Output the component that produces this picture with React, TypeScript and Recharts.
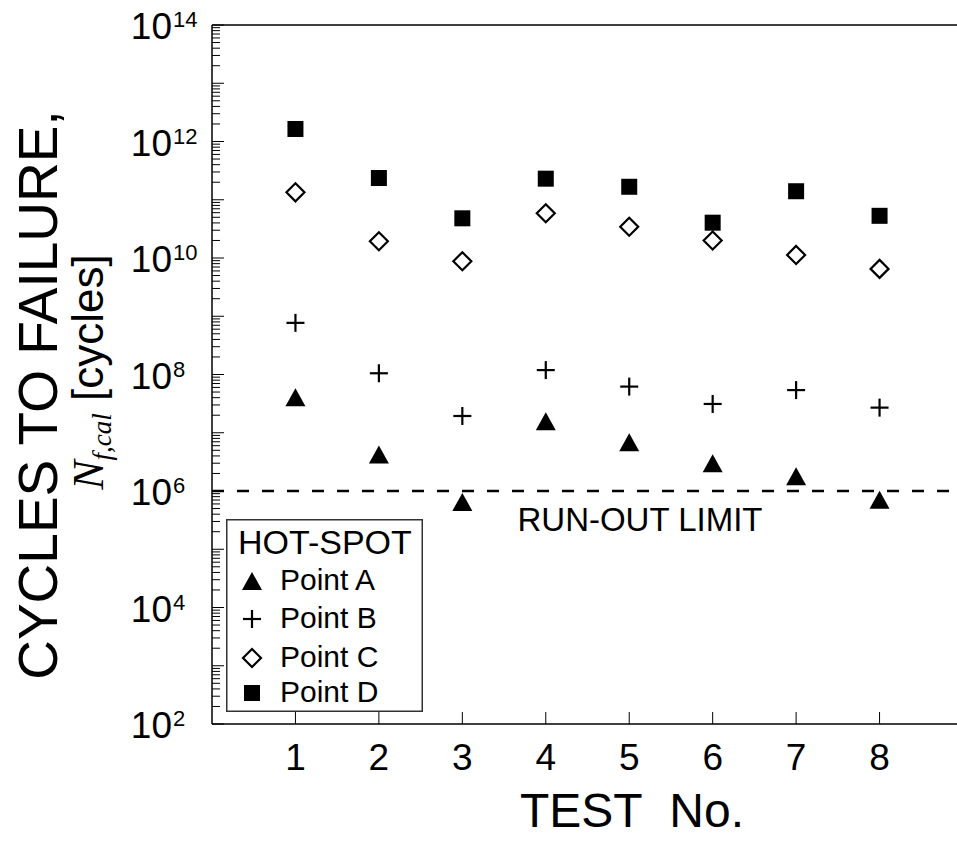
import { ScatterChart, Scatter, XAxis, YAxis, ReferenceLine } from 'recharts';

const tests = [1, 2, 3, 4, 5, 6, 7, 8];
const pointA = [4.07e7, 4.24e6, 6.5e5, 1.57e7, 6.9e6, 3.0e6, 1.79e6, 7.1e5];
const pointB = [7.7e8, 1.05e8, 1.94e7, 1.19e8, 6.2e7, 3.12e7, 5.4e7, 2.7e7];
const pointC = [1.34e11, 1.94e10, 8.8e9, 5.85e10, 3.44e10, 2.0e10, 1.13e10, 6.5e9];
const pointD = [1.64e12, 2.36e11, 4.8e10, 2.3e11, 1.67e11, 4.04e10, 1.4e11, 5.3e10];
const xTicks = [1, 2, 3, 4, 5, 6, 7, 8];
const decades = [2, 3, 4, 5, 6, 7, 8, 9, 10, 11, 12, 13];
const minorSteps = [1, 2, 3, 4, 5, 6, 7, 8, 9];
const runOutLimit = 1e6;
const yMin = 1e2;
const yMax = 1e14;

const SANS = '"Liberation Sans", Arial, sans-serif';
const SERIF = '"Liberation Serif", "Times New Roman", serif';

const yTicks: number[] = [];
decades.forEach((e) => minorSteps.forEach((m) => yTicks.push(m * Math.pow(10, e))));
yTicks.push(yMax);

const toPoints = (vals: number[]) => tests.map((t, i) => ({ x: t, y: vals[i] }));

const Triangle = (p: any) => (
  <polygon
    points={`${p.cx - 10},${p.cy + 9} ${p.cx + 10},${p.cy + 9} ${p.cx},${p.cy - 9}`}
    fill="#000"
  />
);
const Plus = (p: any) => (
  <g stroke="#000" strokeWidth={2.2}>
    <line x1={p.cx - 9} x2={p.cx + 9} y1={p.cy} y2={p.cy} />
    <line x1={p.cx} x2={p.cx} y1={p.cy - 9} y2={p.cy + 9} />
  </g>
);
const Diamond = (p: any) => (
  <polygon
    points={`${p.cx},${p.cy - 9} ${p.cx + 9},${p.cy} ${p.cx},${p.cy + 9} ${p.cx - 9},${p.cy}`}
    fill="#fff"
    stroke="#000"
    strokeWidth={2.2}
  />
);
const Square = (p: any) => <rect x={p.cx - 8} y={p.cy - 8} width={16} height={16} fill="#000" />;

function YTick({ x, y, payload }: any) {
  const v = payload.value;
  const lg = Math.log10(v);
  const e = Math.round(lg);
  const isDecade = Math.abs(lg - e) < 1e-6;
  const labelled = isDecade && e % 2 === 0;
  return (
    <g>
      <line x1={x} x2={x + (isDecade ? 12 : 8)} y1={y} y2={y} stroke="#000" strokeWidth={1} />
      {labelled && (
        <g fontFamily={SANS} fill="#000">
          <text x={x - 40} y={y + 14} textAnchor="end" fontSize={37}>10</text>
          <text x={x - 39} y={y + 2} fontSize={22}>{e}</text>
        </g>
      )}
    </g>
  );
}

function XTick({ x, y, payload }: any) {
  return (
    <g>
      <line x1={x} x2={x} y1={y} y2={y - 12} stroke="#000" strokeWidth={1} />
      <text x={x} y={y + 46} textAnchor="middle" fontSize={37} fontFamily={SANS} fill="#000">
        {payload.value}
      </text>
    </g>
  );
}

const renderYTitle = () => (
  <g fill="#000">
    <text transform="translate(57, 395) rotate(-90)" textAnchor="middle" fontSize={55} fontFamily={SANS}>
      CYCLES TO FAILURE,
    </text>
    <text transform="translate(103, 372) rotate(-90)" textAnchor="middle" fontSize={44} fontFamily={SANS}>
      <tspan fontFamily={SERIF} fontStyle="italic">N</tspan>
      <tspan fontFamily={SERIF} fontStyle="italic" fontSize={27} dy={8}>f,cal</tspan>
      <tspan dy={-8}>{'\u00a0[cycles]'}</tspan>
    </text>
  </g>
);

const renderXTitle = () => (
  <text x={632} y={827} textAnchor="middle" fontSize={48} fontFamily={SANS} fill="#000">
    {'TEST\u00a0\u00a0No.'}
  </text>
);

const renderRunOut = (props: any) => {
  const vb = props.viewBox;
  return (
    <text x={vb.x + 428} y={vb.y + 40} textAnchor="middle" fontSize={33} fontFamily={SANS} fill="#000">
      RUN-OUT LIMIT
    </text>
  );
};

const legendItems = [
  { name: 'Point A', Shape: Triangle },
  { name: 'Point B', Shape: Plus },
  { name: 'Point C', Shape: Diamond },
  { name: 'Point D', Shape: Square },
];
const legendBaselines = [71, 109, 148, 183];

function HotSpotLegend() {
  return (
    <svg width={197} height={193} style={{ position: 'absolute', left: 226, top: 519, overflow: 'visible' }}>
      <rect x={0.75} y={0.75} width={195.5} height={191.5} fill="#fff" stroke="#333" strokeWidth={1.5} />
      <text x={12} y={35} fontSize={34} fontFamily={SANS}>HOT-SPOT</text>
      {legendItems.map((item, i) => (
        <g key={item.name}>
          <item.Shape cx={26} cy={legendBaselines[i] - 9} />
          <text x={54} y={legendBaselines[i]} fontSize={30} fontFamily={SANS}>{item.name}</text>
        </g>
      ))}
    </svg>
  );
}

export default function App() {
  return (
    <div style={{ position: 'absolute', left: 0, top: 0, width: 957, height: 841, overflow: 'hidden', background: '#fff' }}>
      <ScatterChart width={963} height={841} margin={{ top: 25, right: 0, bottom: 0, left: 0 }}>
        <XAxis
          type="number"
          dataKey="x"
          domain={[0, 9]}
          ticks={xTicks}
          interval={0}
          tickSize={0}
          tickMargin={0}
          tick={<XTick />}
          axisLine={{ stroke: '#000', strokeWidth: 1.5 }}
          height={117}
          label={renderXTitle}
          allowDataOverflow
        />
        <YAxis
          type="number"
          dataKey="y"
          scale="log"
          domain={[yMin, yMax]}
          ticks={yTicks}
          interval={0}
          tickSize={0}
          tickMargin={0}
          tick={<YTick />}
          axisLine={{ stroke: '#000', strokeWidth: 1.5 }}
          width={212}
          label={renderYTitle}
          allowDataOverflow
        />
        <ReferenceLine y={yMax} stroke="#000" strokeWidth={1.5} />
        <ReferenceLine
          y={runOutLimit}
          stroke="#000"
          strokeWidth={2.5}
          strokeDasharray="12 13"
          label={renderRunOut}
        />
        <Scatter name="Point A" data={toPoints(pointA)} shape={Triangle} isAnimationActive={false} />
        <Scatter name="Point B" data={toPoints(pointB)} shape={Plus} isAnimationActive={false} />
        <Scatter name="Point C" data={toPoints(pointC)} shape={Diamond} isAnimationActive={false} />
        <Scatter name="Point D" data={toPoints(pointD)} shape={Square} isAnimationActive={false} />
      </ScatterChart>
      <HotSpotLegend />
    </div>
  );
}
